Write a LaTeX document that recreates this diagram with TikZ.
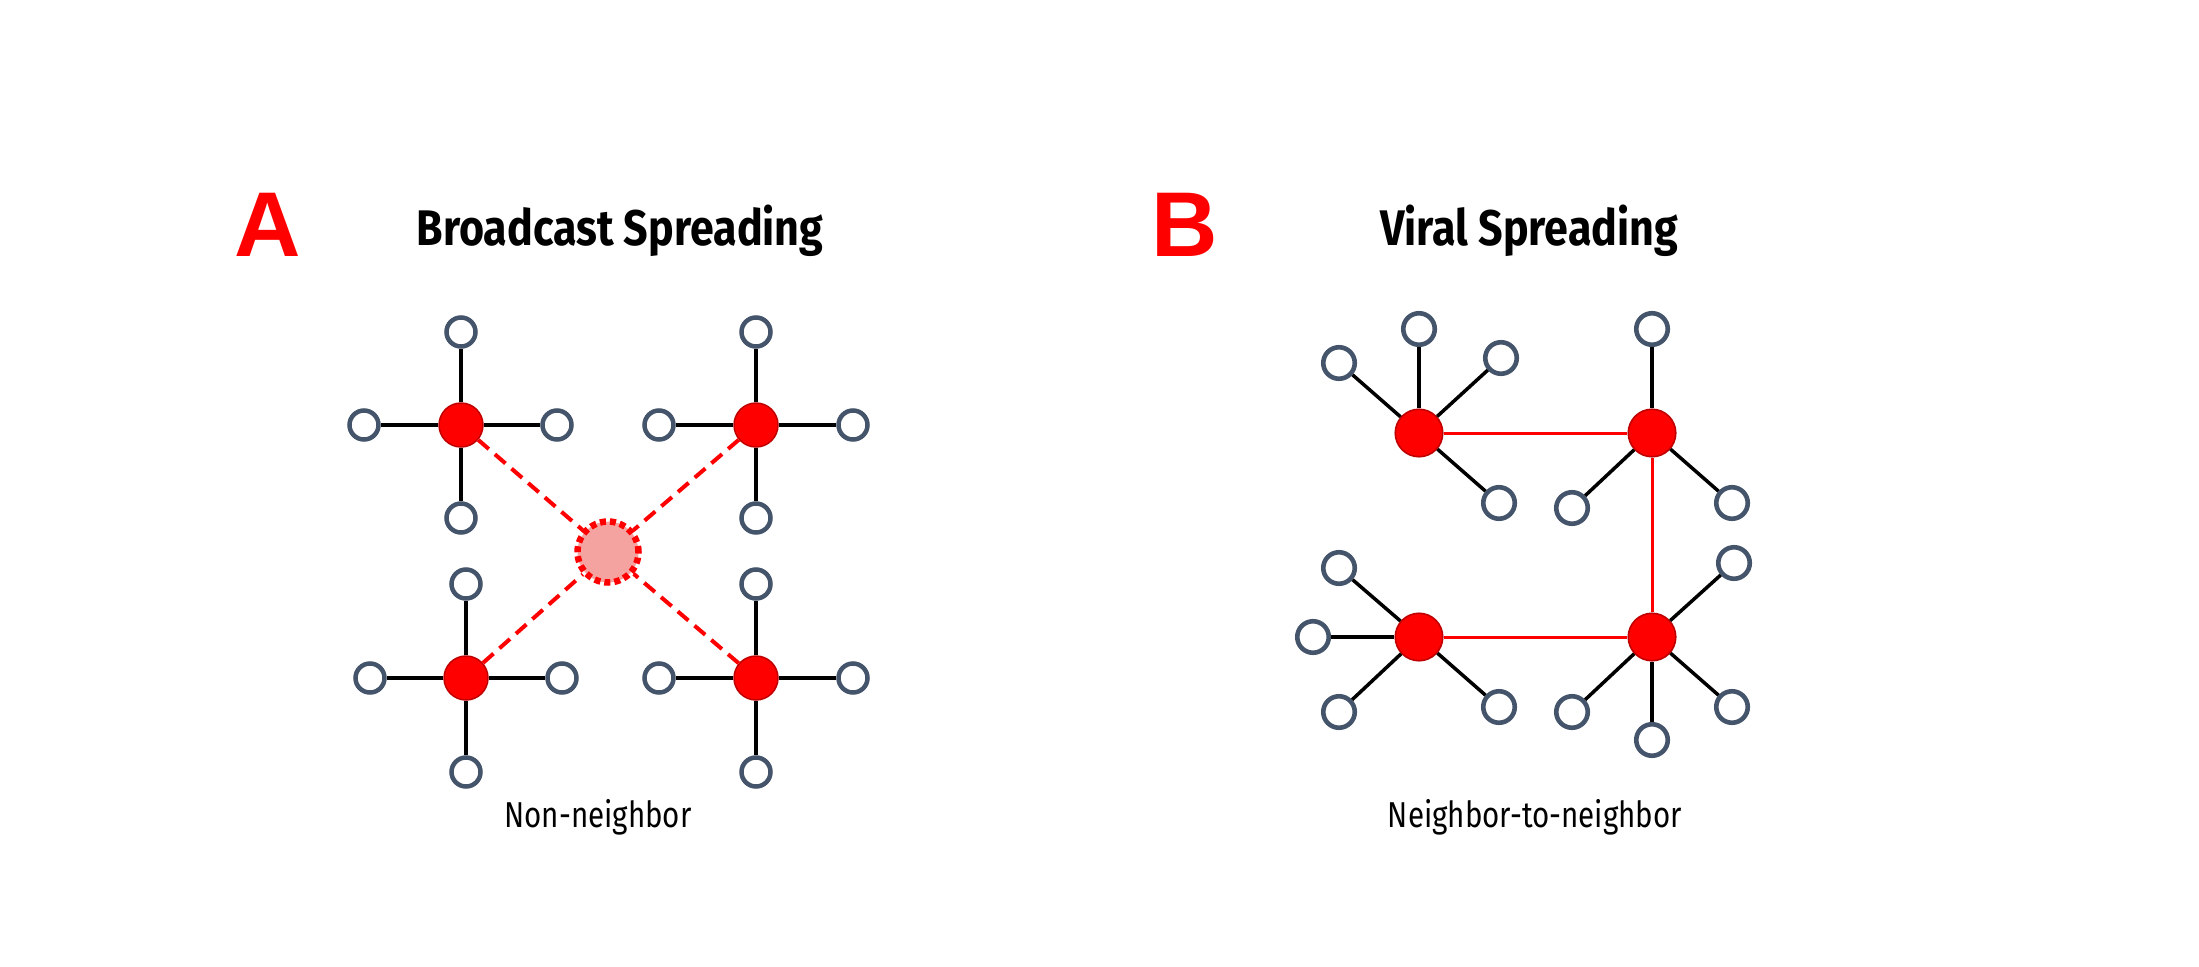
\documentclass[tikz,border=0pt]{standalone}
\usepackage{fontspec}
\setmainfont{Fira Sans}
\newfontfamily\labfont{Liberation Sans}
\newfontfamily\titlefont[FakeStretch=0.86]{Fira Sans}
\newfontfamily\condfont[FakeStretch=0.82]{Fira Sans}
\definecolor{hubred}{HTML}{FF0000}
\definecolor{hubedge}{HTML}{C00000}
\definecolor{slate}{HTML}{44546A}
\definecolor{pinkfill}{HTML}{F4A3A0}
\begin{document}
\begin{tikzpicture}[x=1pt,y=-1pt,
  leafA/.style={circle,draw=slate,fill=white,line width=4.5pt,minimum size=29pt,inner sep=0pt},
  hubA/.style={circle,draw=hubedge,fill=hubred,line width=1.5pt,minimum size=44pt,inner sep=0pt},
  leafB/.style={circle,draw=slate,fill=white,line width=4.6pt,minimum size=31.5pt,inner sep=0pt},
  hubB/.style={circle,draw=hubedge,fill=hubred,line width=1.6pt,minimum size=47.5pt,inner sep=0pt},
  ghost/.style={circle,draw=hubred,fill=pinkfill,line width=6.5pt,dash pattern=on 6pt off 4pt,minimum size=61pt,inner sep=0pt},
  link/.style={line width=3.5pt,black},
  redlink/.style={line width=3pt,hubred},
  dashlink/.style={line width=4pt,hubred,dash pattern=on 14pt off 8pt},
  bigletter/.style={inner sep=0pt,anchor=base west,text=hubred,font=\labfont\fontsize{92}{92}\selectfont\bfseries},
  titletext/.style={inner sep=0pt,anchor=base,font=\titlefont\fontsize{50}{50}\selectfont\bfseries},
  captext/.style={inner sep=0pt,anchor=base,font=\condfont\fontsize{36}{36}\selectfont}
]
\useasboundingbox (0,0) rectangle (2199,966);
\fill[white] (0,0) rectangle (2199,966);

% ---------- Panel A ----------
\node[bigletter] (la) at (234,256) {A};
\node[titletext] (ta) at (620,245) {Broadcast Spreading};
\node[captext] (ca) at (598,827) {Non-neighbor};

\node[hubA] (h1) at (461,425) {};
\node[leafA] (h1n) at (461,332) {};
\node[leafA] (h1w) at (364,425) {};
\node[leafA] (h1e) at (557,425) {};
\node[leafA] (h1s) at (461,518) {};

\node[hubA] (h2) at (756,425) {};
\node[leafA] (h2n) at (756,332) {};
\node[leafA] (h2w) at (659,425) {};
\node[leafA] (h2e) at (853,425) {};
\node[leafA] (h2s) at (756,518) {};

\node[hubA] (h3) at (466,678) {};
\node[leafA] (h3n) at (466,584) {};
\node[leafA] (h3w) at (370,678) {};
\node[leafA] (h3e) at (562,678) {};
\node[leafA] (h3s) at (466,772) {};

\node[hubA] (h4) at (756,678) {};
\node[leafA] (h4n) at (756,584) {};
\node[leafA] (h4w) at (659,678) {};
\node[leafA] (h4e) at (853,678) {};
\node[leafA] (h4s) at (756,772) {};

\node[ghost] (g) at (608,552) {};

\foreach \h in {h1,h2,h3,h4}{
  \foreach \d in {n,w,e,s}{
    \draw[link] (\h) -- (\h\d);
  }
  \draw[dashlink] (\h) -- (g);
}

% ---------- Panel B ----------
\node[bigletter] (lb) at (1151,256) {B};
\node[titletext] (tb) at (1529,245) {Viral Spreading};
\node[captext] (cb) at (1535,827) {Neighbor-to-neighbor};

\node[hubB] (v1) at (1419,433) {};
\node[leafB] (v1a) at (1339,363) {};
\node[leafB] (v1b) at (1419,329) {};
\node[leafB] (v1c) at (1501,358) {};
\node[leafB] (v1d) at (1499,503) {};

\node[hubB] (v2) at (1652,433) {};
\node[leafB] (v2a) at (1652,329) {};
\node[leafB] (v2b) at (1572,508) {};
\node[leafB] (v2c) at (1732,503) {};

\node[hubB] (v3) at (1419,637) {};
\node[leafB] (v3a) at (1339,568) {};
\node[leafB] (v3b) at (1313,637) {};
\node[leafB] (v3c) at (1339,712) {};
\node[leafB] (v3d) at (1499,707) {};

\node[hubB] (v4) at (1652,637) {};
\node[leafB] (v4a) at (1734,563) {};
\node[leafB] (v4b) at (1572,712) {};
\node[leafB] (v4c) at (1652,740) {};
\node[leafB] (v4d) at (1732,707) {};

\foreach \l in {v1a,v1b,v1c,v1d}{\draw[link] (v1) -- (\l);}
\foreach \l in {v2a,v2b,v2c}{\draw[link] (v2) -- (\l);}
\foreach \l in {v3a,v3b,v3c,v3d}{\draw[link] (v3) -- (\l);}
\foreach \l in {v4a,v4b,v4c,v4d}{\draw[link] (v4) -- (\l);}

\draw[redlink] (v1) -- (v2);
\draw[redlink] (v2) -- (v4);
\draw[redlink] (v3) -- (v4);
\end{tikzpicture}
\end{document}
